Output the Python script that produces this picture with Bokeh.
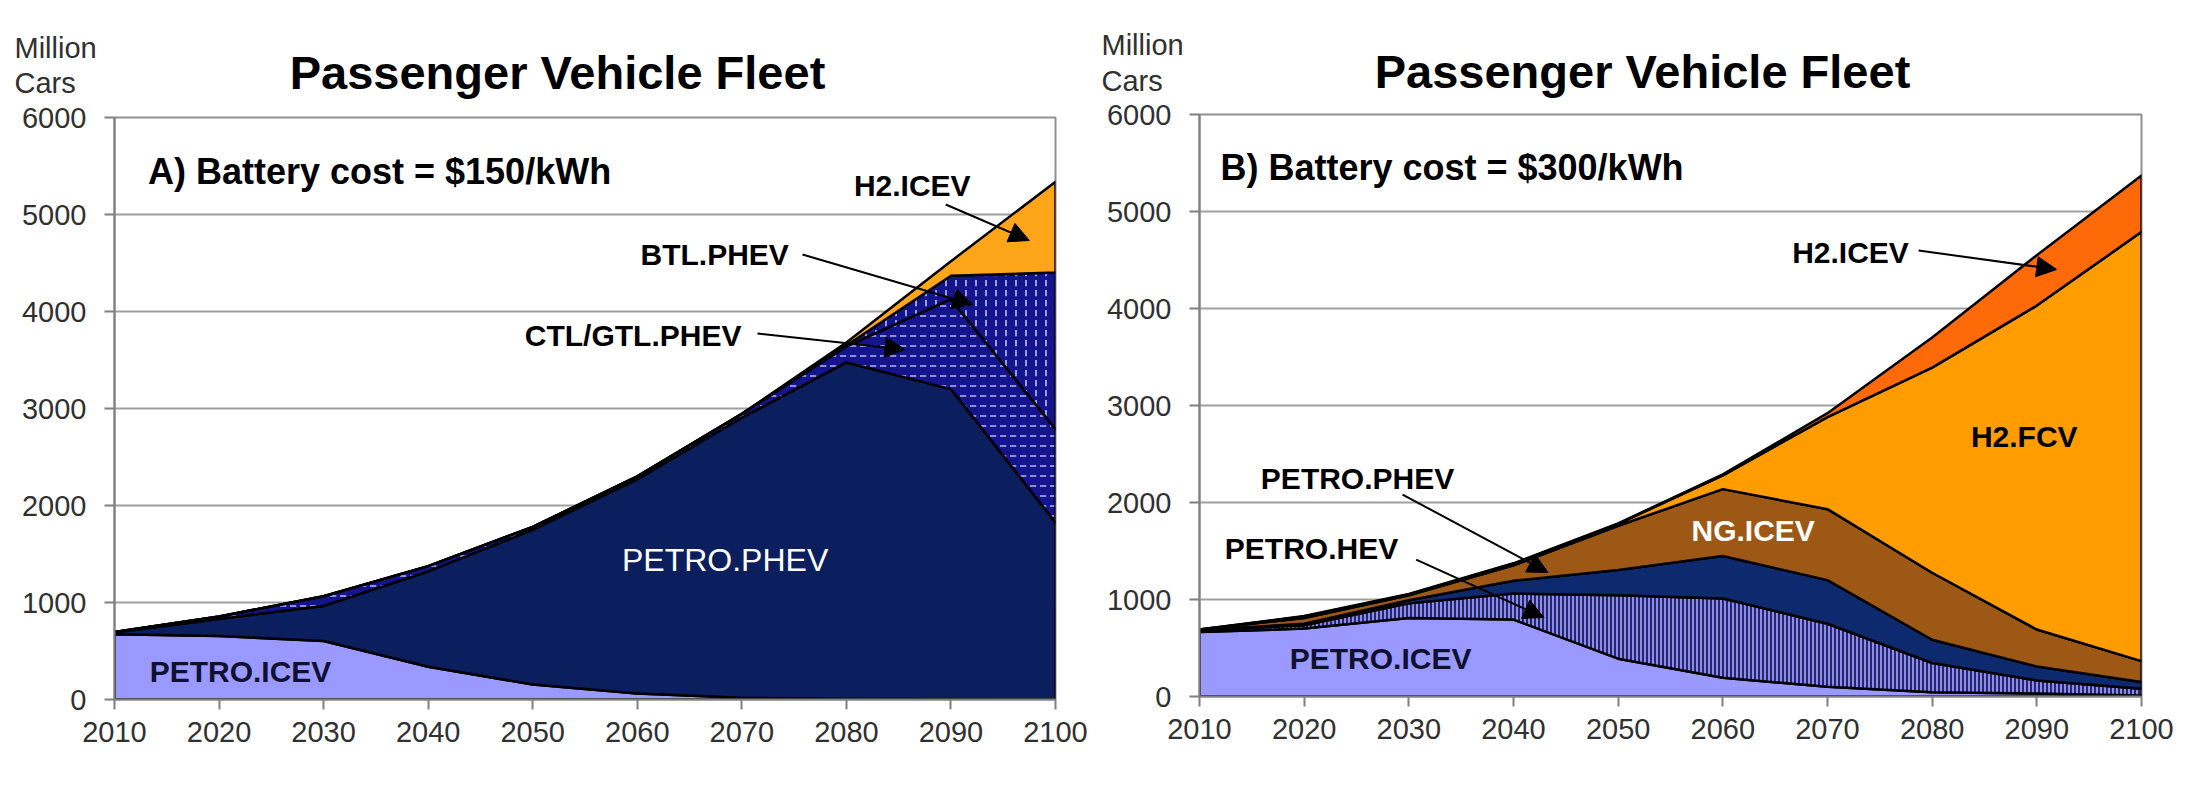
import numpy as np
from bokeh.plotting import figure
from bokeh.models import Label, Arrow, NormalHead, Range1d, FixedTicker
from bokeh.layouts import row, column
from bokeh.embed import file_html
from bokeh.resources import INLINE

# ---------------- data ----------------
years = [2010, 2020, 2030, 2040, 2050, 2060, 2070, 2080, 2090, 2100]
y_ticks = [0, 1000, 2000, 3000, 4000, 5000, 6000]

# Panel A: battery cost = $150/kWh (million cars, stacked bottom -> top)
A_PETRO_ICEV = [672, 655, 603, 338, 155, 62, 17, 5, 2, 0]
A_PETRO_PHEV = [18, 175, 362, 982, 1595, 2208, 2888, 3470, 3198, 1825]
A_CTL_GTL_PHEV = [5, 25, 100, 55, 30, 30, 40, 165, 927, 962]
A_BTL_PHEV = [0, 0, 0, 0, 0, 0, 0, 10, 241, 1615]
A_H2_ICEV = [0, 0, 0, 0, 0, 0, 0, 30, 150, 935]

# Panel B: battery cost = $300/kWh
B_PETRO_ICEV = [665, 700, 810, 793, 390, 193, 100, 45, 30, 10]
B_PETRO_HEV = [18, 35, 150, 269, 655, 817, 650, 300, 135, 70]
B_PETRO_PHEV = [2, 15, 33, 131, 258, 438, 450, 240, 145, 70]
B_NG_ICEV = [5, 60, 50, 160, 457, 690, 731, 691, 380, 215]
B_H2_FCV = [0, 15, 10, 15, 20, 142, 950, 2114, 3340, 4425]
B_H2_ICEV = [0, 5, 5, 5, 5, 10, 40, 310, 520, 580]

FONT = "Liberation Sans"
STRIP_H = 100


def no_align(p):
    try:
        p.frame_align = False
    except AttributeError:
        pass


def make_fig(width, height, left, right, top, bottom):
    p = figure(width=width, height=height, output_backend="svg", toolbar_location=None,
               x_range=Range1d(2010, 2100), y_range=Range1d(0, 6000),
               min_border_left=left, min_border_right=right,
               min_border_top=top, min_border_bottom=bottom)
    no_align(p)
    p.xaxis.ticker = FixedTicker(ticks=years)
    p.yaxis.ticker = FixedTicker(ticks=y_ticks)
    p.xgrid.visible = False
    p.ygrid.grid_line_color = "#a0a0a0"
    p.ygrid.grid_line_width = 2
    p.axis.axis_line_color = "#808080"
    p.axis.axis_line_width = 2
    p.axis.major_tick_line_color = "#808080"
    p.axis.major_tick_line_width = 2
    p.axis.major_tick_out = 10
    p.axis.major_tick_in = 0
    p.axis.minor_tick_line_color = None
    p.axis.major_label_text_font = FONT
    p.axis.major_label_text_font_size = "29px"
    p.axis.major_label_text_color = "#303030"
    p.yaxis.major_label_standoff = 18
    p.xaxis.major_label_standoff = 12
    p.outline_line_color = "#909090"
    p.outline_line_width = 2
    p.background_fill_color = "white"
    p.border_fill_color = "white"
    return p


def make_strip(width):
    # header strip without axes: its frame fills the whole canvas, 1 data unit = 1 px
    s = figure(width=width, height=STRIP_H, output_backend="svg", toolbar_location=None,
               x_axis_type=None, y_axis_type=None,
               x_range=Range1d(0, width), y_range=Range1d(0, STRIP_H),
               min_border=0, min_border_left=0, min_border_right=0,
               min_border_top=0, min_border_bottom=0)
    no_align(s)
    s.outline_line_color = None
    s.background_fill_color = "white"
    s.border_fill_color = "white"
    return s


def stack(p, layers):
    base = np.zeros(len(years))
    for vals, style in layers:
        top = base + np.array(vals, dtype=float)
        xs = years + years[::-1]
        ys = list(top) + list(base[::-1])
        kw = dict(fill_color=style["fill"], line_color="black", line_width=2.5,
                  line_join="round")
        if "hatch" in style:
            kw.update(hatch_pattern=style["hatch"], hatch_color=style["hcolor"],
                      hatch_scale=style.get("hscale", 8), hatch_weight=style.get("hweight", 1.5))
        p.patch(xs, ys, **kw)
        base = top


def label(p, x, y, text, size="30px", color="black", bold=True, align="center"):
    p.add_layout(Label(x=x, y=y, text=text, text_font=FONT, text_font_size=size,
                       text_color=color, text_font_style="bold" if bold else "normal",
                       text_align=align, text_baseline="middle"))


def arrow(p, x0, y0, x1, y1):
    p.add_layout(Arrow(end=NormalHead(size=20, fill_color="black", line_color="black"),
                       x_start=x0, y_start=y0, x_end=x1, y_end=y1,
                       line_color="black", line_width=2))


# ---------------- panel A ----------------
sa = make_strip(1092)
label(sa, 557, 28, "Passenger Vehicle Fleet", size="47px")
label(sa, 14, 53, "Million", size="29px", color="#303030", bold=False, align="left")
label(sa, 14, 18, "Cars", size="29px", color="#303030", bold=False, align="left")

pa = make_fig(1092, 776 - STRIP_H, 114, 37, 17, 77)
stack(pa, [
    (A_PETRO_ICEV, dict(fill="#9999ff")),
    (A_PETRO_PHEV, dict(fill="#0b1f5f")),
    (A_CTL_GTL_PHEV, dict(fill="#14148c", hatch="horizontal_dash", hcolor="#b4b4f0", hscale=10)),
    (A_BTL_PHEV, dict(fill="#14148c", hatch="vertical_dash", hcolor="#c8c8f5", hscale=10)),
    (A_H2_ICEV, dict(fill="#ffa51a")),
])
label(pa, 2013.2, 5443, "A) Battery cost = $150/kWh", size="36px", align="left")
label(pa, 2022.05, 289, "PETRO.ICEV", color="#101030")
label(pa, 2068.4, 1433, "PETRO.PHEV", size="32px", color="white", bold=False)
label(pa, 2086.3, 5299, "H2.ICEV")
label(pa, 2067.4, 4588, "BTL.PHEV")
label(pa, 2059.6, 3753, "CTL/GTL.PHEV")
arrow(pa, 2089.5, 5103, 2097.5, 4732)
arrow(pa, 2075.8, 4588, 2092.1, 4072)
arrow(pa, 2071.5, 3773, 2085.6, 3608)

# ---------------- panel B ----------------
sb = make_strip(1094)
label(sb, 550, 29, "Passenger Vehicle Fleet", size="47px")
label(sb, 9, 56, "Million", size="29px", color="#303030", bold=False, align="left")
label(sb, 9, 20, "Cars", size="29px", color="#303030", bold=False, align="left")

pb = make_fig(1094, 776 - STRIP_H, 107, 45, 14, 80)
stack(pb, [
    (B_PETRO_ICEV, dict(fill="#9999ff")),
    (B_PETRO_HEV, dict(fill="#8c8cec", hatch="vertical_line", hcolor="#1a1a5a", hscale=4, hweight=1.8)),
    (B_PETRO_PHEV, dict(fill="#0e2a6e")),
    (B_NG_ICEV, dict(fill="#9d5815")),
    (B_H2_FCV, dict(fill="#ff9c00")),
    (B_H2_ICEV, dict(fill="#ff6a08")),
])
label(pb, 2012.0, 5454, "B) Battery cost = $300/kWh", size="36px", align="left")
label(pb, 2072.2, 4577, "H2.ICEV")
label(pb, 2025.1, 2247, "PETRO.PHEV")
label(pb, 2020.7, 1526, "PETRO.HEV")
label(pb, 2062.9, 1711, "NG.ICEV", color="white")
label(pb, 2088.8, 2680, "H2.FCV")
label(pb, 2027.3, 392, "PETRO.ICEV", color="#101030")
arrow(pb, 2078.7, 4598, 2091.9, 4402)
arrow(pb, 2029.4, 2082, 2043.3, 1278)
arrow(pb, 2030.7, 1412, 2042.9, 814)

layout = row(column(sa, pa), column(sb, pb))
open("out.html", "w").write(file_html(layout, INLINE))
